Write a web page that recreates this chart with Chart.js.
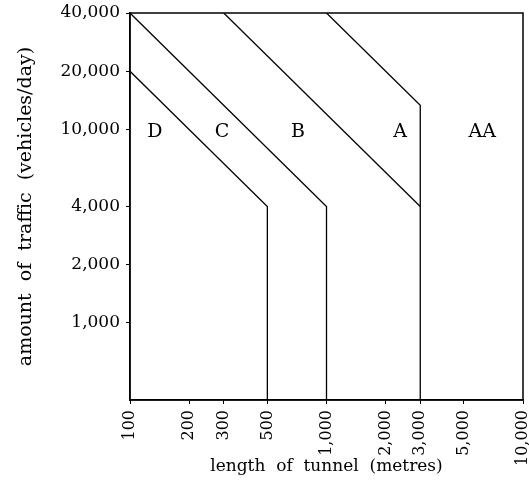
<!DOCTYPE html>
<html>
<head>
<meta charset="utf-8">
<script src="https://cdn.jsdelivr.net/npm/chart.js@4.4.1/dist/chart.umd.min.js"></script>
<style>
  html, body { margin: 0; padding: 0; background: #fff; }
  #wrap { width: 529px; height: 492px; }
</style>
</head>
<body>
<div id="wrap"><canvas id="tunnelChart" width="529" height="492"></canvas></div>
<script>
// Tunnel classification chart (traffic vs tunnel length, log-log)

// Axis ticks
const lengthTicks = [100, 200, 300, 500, 1000, 2000, 3000, 5000, 10000];
const trafficTicks = [1000, 2000, 4000, 10000, 20000, 40000];

// Boundary lines between classes (length in metres, traffic in vehicles/day)
const boundaryDC_len = [100, 500, 500];
const boundaryDC_traffic = [20000, 4000, 400];
const boundaryCB_len = [100, 1000, 1000];
const boundaryCB_traffic = [40000, 4000, 400];
const boundaryBA_len = [300, 3000];
const boundaryBA_traffic = [40000, 4000];
const boundaryAAA_len = [1000, 3000, 3000];
const boundaryAAA_traffic = [40000, 13333, 400];

// Class labels and where they sit
const zoneNames = ['D', 'C', 'B', 'A', 'AA'];
const zoneLength = [134, 294, 716, 2366, 6200];
const zoneTraffic = [9700, 9700, 9700, 9700, 9700];

const FONT = "'DejaVu Serif', serif";

function toPoints(xs, ys) {
  return xs.map((x, i) => ({ x: x, y: ys[i] }));
}

function lineDataset(xs, ys) {
  return {
    data: toPoints(xs, ys),
    borderColor: '#000',
    borderWidth: 1.3,
    pointRadius: 0,
    fill: false,
    tension: 0
  };
}

// Frame round the plot area + class letters
const framePlugin = {
  id: 'frame',
  afterDatasetsDraw(chart) {
    const { ctx, chartArea: a, scales } = chart;
    ctx.save();
    ctx.strokeStyle = '#000';
    ctx.lineWidth = 1.5;
    ctx.strokeRect(a.left, a.top, a.right - a.left, a.bottom - a.top);

    ctx.fillStyle = '#000';
    ctx.font = '19px ' + FONT;
    ctx.textAlign = 'center';
    ctx.textBaseline = 'middle';
    zoneNames.forEach((name, i) => {
      ctx.fillText(name, scales.x.getPixelForValue(zoneLength[i]), scales.y.getPixelForValue(zoneTraffic[i]));
    });
    ctx.restore();
  }
};

const fmt = v => Number(v).toLocaleString('en-US');

new Chart(document.getElementById('tunnelChart'), {
  type: 'line',
  data: {
    datasets: [
      lineDataset(boundaryDC_len, boundaryDC_traffic),
      lineDataset(boundaryCB_len, boundaryCB_traffic),
      lineDataset(boundaryBA_len, boundaryBA_traffic),
      lineDataset(boundaryAAA_len, boundaryAAA_traffic)
    ]
  },
  options: {
    responsive: false,
    animation: false,
    layout: { padding: { top: 13, right: 6, left: 0, bottom: 0 } },
    plugins: {
      legend: { display: false },
      tooltip: { enabled: false }
    },
    scales: {
      x: {
        type: 'logarithmic',
        min: 100,
        max: 10000,
        afterFit: s => { s.height = 92; s.paddingLeft = 0; s.paddingRight = 0; },
        afterBuildTicks: s => { s.ticks = lengthTicks.map(v => ({ value: v })); },
        grid: { display: true, drawOnChartArea: false, drawTicks: true, tickLength: 4, color: '#000' },
        border: { display: true, color: '#000', width: 1.5 },
        ticks: {
          autoSkip: false,
          minRotation: 90,
          maxRotation: 90,
          padding: 6,
          color: '#000',
          font: { family: FONT, size: 16 },
          callback: v => fmt(v)
        },
        title: {
          display: true,
          text: 'length  of  tunnel  (metres)',
          color: '#000',
          font: { family: FONT, size: 17 },
          padding: { top: 0, bottom: 15 }
        }
      },
      y: {
        type: 'logarithmic',
        min: 400,
        max: 40000,
        afterFit: s => { s.width = 130; s.paddingTop = 0; s.paddingBottom = 0; },
        afterBuildTicks: s => { s.ticks = trafficTicks.map(v => ({ value: v })); },
        grid: { display: true, drawOnChartArea: false, drawTicks: true, tickLength: 4, color: '#000' },
        border: { display: true, color: '#000', width: 1.5 },
        ticks: {
          autoSkip: false,
          padding: 6,
          color: '#000',
          font: { family: FONT, size: 17 },
          callback: v => fmt(v)
        },
        title: {
          display: true,
          text: 'amount  of  traffic  (vehicles/day)',
          color: '#000',
          font: { family: FONT, size: 19 },
          padding: { top: 15, bottom: 0 }
        }
      }
    }
  },
  plugins: [framePlugin]
});
</script>
</body>
</html>
